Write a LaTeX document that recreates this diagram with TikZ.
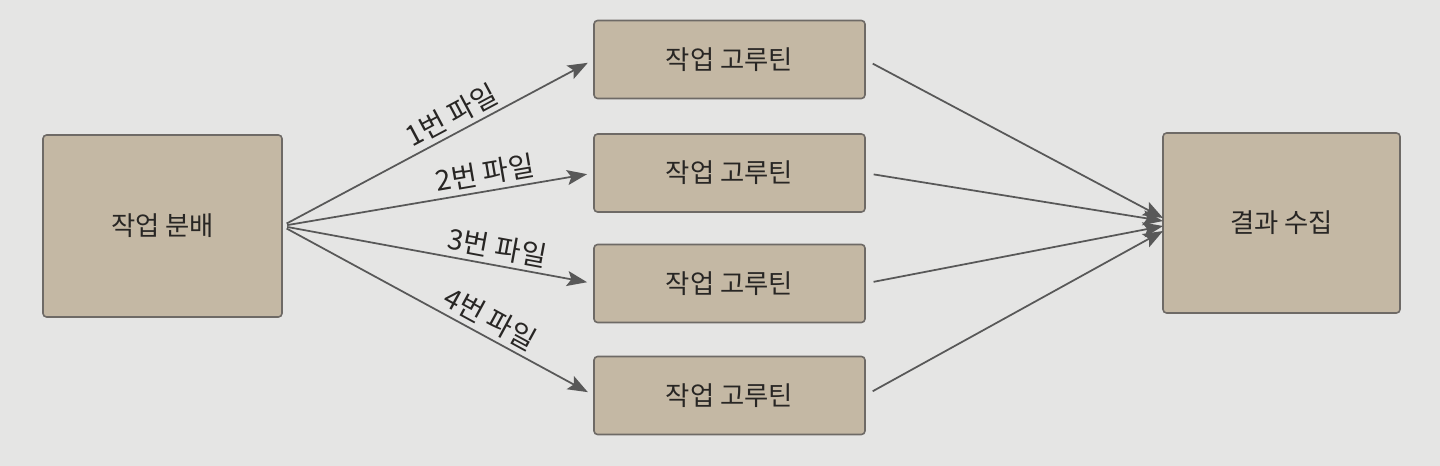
\documentclass[tikz,border=0pt]{standalone}
\usepackage{fontspec}
\setmainfont{Noto Sans CJK KR}
\usetikzlibrary{arrows.meta}
\definecolor{boxfill}{RGB}{196,184,164}
\definecolor{boxline}{RGB}{110,106,102}
\definecolor{pagebg}{RGB}{229,229,228}
\definecolor{arrowcol}{RGB}{88,88,88}
\definecolor{textcol}{RGB}{40,38,36}
\begin{document}
\begin{tikzpicture}[x=0.02cm,y=-0.02cm,every node/.style={outer sep=0pt, inner sep=0pt, font=\fontsize{15}{17}\selectfont, text=textcol},
  box/.style={draw=boxline, line width=0.9pt, fill=boxfill, rounded corners=2pt},
  worker/.style={box, minimum width=5.42cm, minimum height=1.56cm},
  flow/.style={draw=arrowcol, line width=1pt, -{Stealth[length=0.4cm,width=0.3cm,inset=0.08cm]}},
  file/.style={sloped, above=3pt, font=\fontsize{16}{18}\selectfont}]
\fill[pagebg] (0,0) rectangle (1440,466);
\useasboundingbox (0,0) rectangle (1440,466);
\node[box, minimum width=4.78cm, minimum height=3.64cm] (split) at (162.5,226) {작업 분배};
\node[worker] (w1) at (729.5,59.5) {작업 고루틴};
\node[worker] (w2) at (729.5,173) {작업 고루틴};
\node[worker] (w3) at (729.5,283.5) {작업 고루틴};
\node[worker] (w4) at (729.5,395.5) {작업 고루틴};
\node[box, minimum width=4.74cm, minimum height=3.6cm] (collect) at (1281.5,223) {결과 수집};
\draw[flow, shorten <=3pt, shorten >=4pt] (split.east) -- (w1.west) node[file, pos=0.57] {1번 파일};
\draw[flow, shorten <=3pt, shorten >=4pt] (split.east) -- (w2.west) node[file, pos=0.66] {2번 파일};
\draw[flow, shorten <=3pt, shorten >=4pt] (split.east) -- (w3.west) node[file, pos=0.68] {3번 파일};
\draw[flow, shorten <=3pt, shorten >=4pt] (split.east) -- (w4.west) node[file, pos=0.64] {4번 파일};
\draw[flow, shorten <=5pt] (w1.east) -- ([yshift=0.1cm]collect.west);
\draw[flow, shorten <=5pt] (w2.east) -- ([yshift=0.04cm]collect.west);
\draw[flow, shorten <=5pt] (w3.east) -- ([yshift=-0.06cm]collect.west);
\draw[flow, shorten <=5pt] (w4.east) -- ([yshift=-0.16cm]collect.west);
\end{tikzpicture}
\end{document}
